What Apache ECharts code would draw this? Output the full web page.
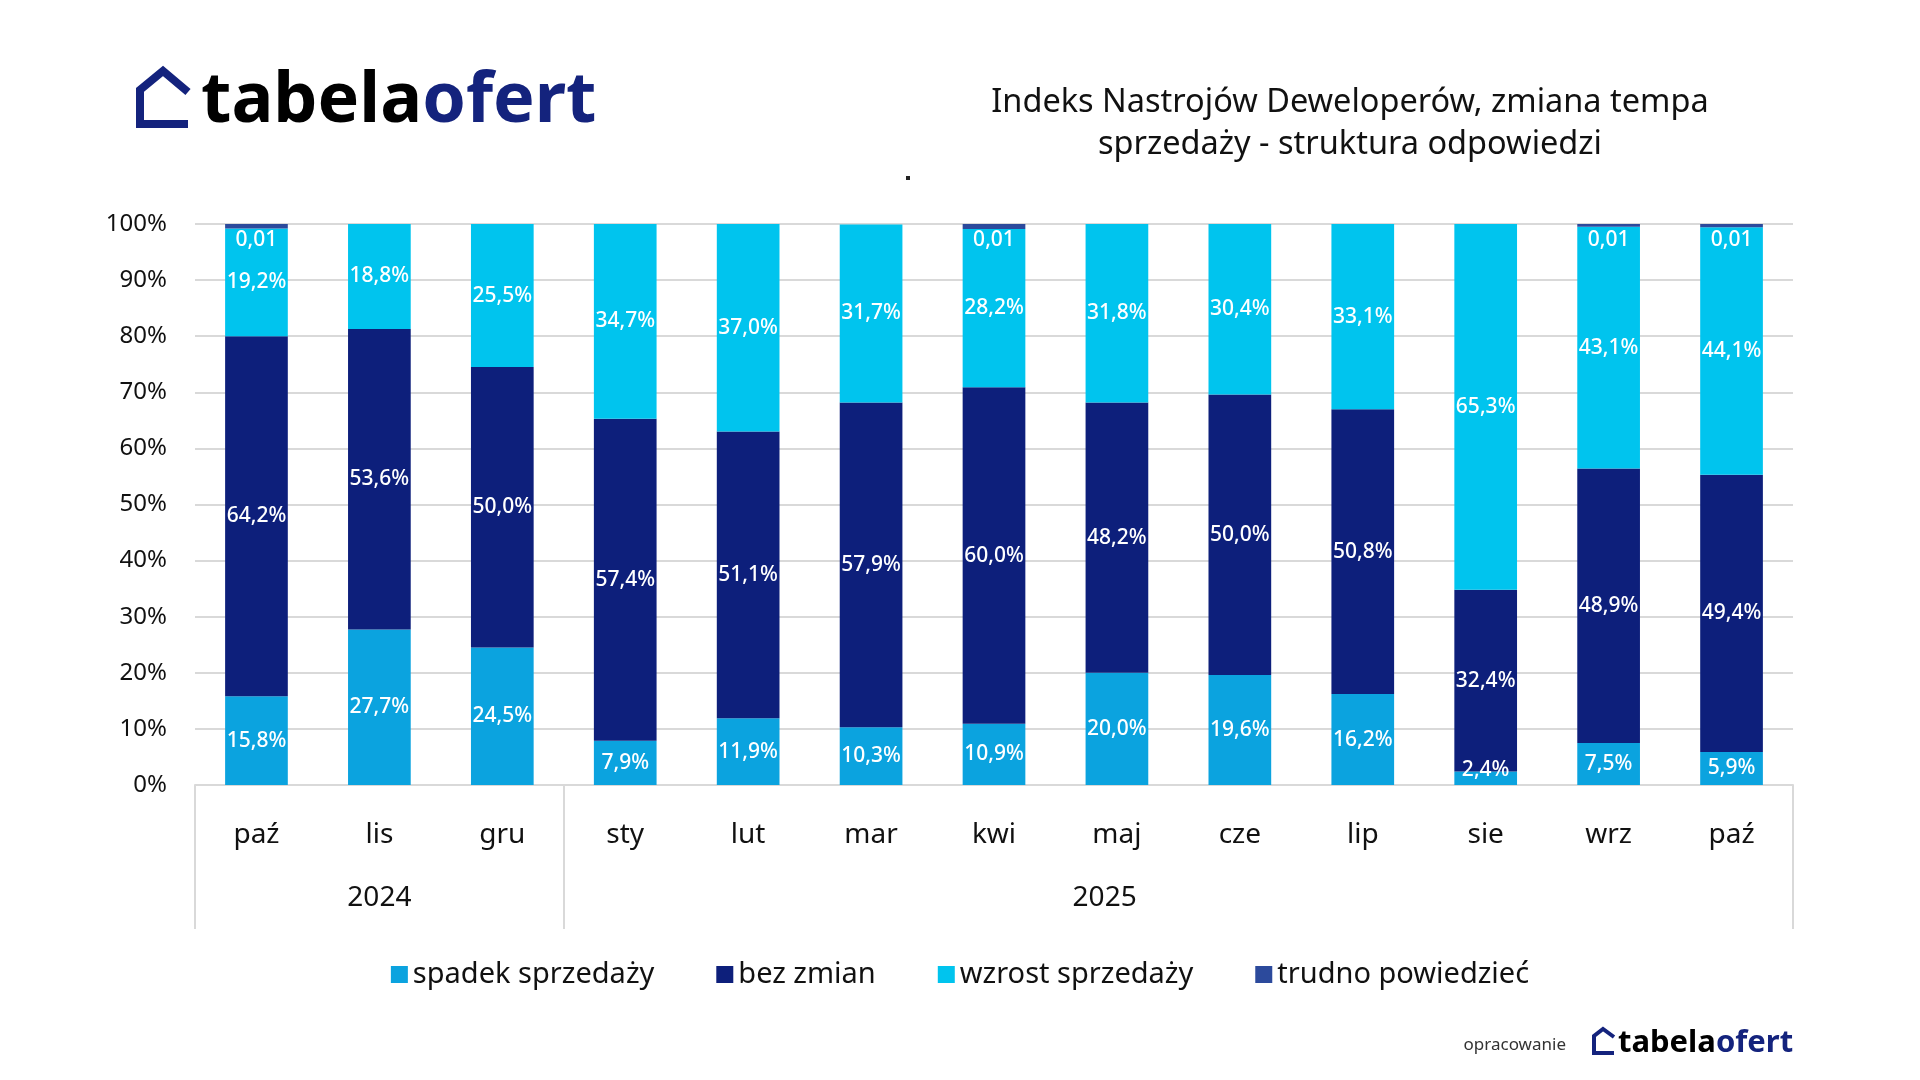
<!DOCTYPE html>
<html>
<head>
<meta charset="utf-8">
<script src="https://cdn.jsdelivr.net/npm/echarts@6/dist/echarts.min.js"></script>
<style>
html,body{margin:0;padding:0;background:#fff;}
#main{width:1920px;height:1080px;}
</style>
</head>
<body>
<div id="main"></div>
<script>
const categories = ['paź','lis','gru','sty','lut','mar','kwi','maj','cze','lip','sie','wrz','paź'];
const years = ['2024','2025'];
const yearStart = [0, 3];
const spadek = [15.8, 27.7, 24.5, 7.9, 11.9, 10.3, 10.9, 20.0, 19.6, 16.2, 2.4, 7.5, 5.9];
const bezZmian = [64.2, 53.6, 50.0, 57.4, 51.1, 57.9, 60.0, 48.2, 50.0, 50.8, 32.4, 48.9, 49.4];
const wzrost = [19.2, 18.8, 25.5, 34.7, 37.0, 31.7, 28.2, 31.8, 30.4, 33.1, 65.3, 43.1, 44.1];
const trudno = [1, null, null, null, null, null, 1, null, null, null, null, 1, 1];
const yTicks = [0,10,20,30,40,50,60,70,80,90,100];

const FONT = 'Noto Sans';
const pct = v => v.toFixed(1).replace('.', ',') + '%';

const chart = echarts.init(document.getElementById('main'), null, {renderer:'canvas'});

const labelBase = {show:true, color:'#fff', fontSize:21, fontWeight:500, fontFamily:FONT};

function mkData(arr){
  return arr.map(v => (v !== null && v < 5) ? {value:v, label:{position:'insideBottom', distance:4}} : v);
}

const yearLabelPos = [1.5, 7.4];

const option = {
  backgroundColor:'#ffffff',
  animation:false,
  textStyle:{fontFamily:FONT},
  title:{
    text:'Indeks Nastrojów Deweloperów, zmiana tempa\nsprzedaży - struktura odpowiedzi',
    left:1345, top:77, textAlign:'center',
    textStyle:{fontFamily:FONT, fontSize:32.5, fontWeight:'normal', color:'#111', lineHeight:42}
  },
  legend:{
    bottom:86, left:'center',
    itemWidth:17, itemHeight:17, itemGap:62, icon:'rect',
    textStyle:{fontFamily:FONT, fontSize:29, color:'#111'},
    data:['spadek sprzedaży','bez zmian','wzrost sprzedaży','trudno powiedzieć']
  },
  grid:{left:195, right:127, top:224, bottom:295, containLabel:false},
  xAxis:[{
    type:'category', data:categories, position:'bottom',
    axisLine:{show:true, lineStyle:{color:'#d9d9d9', width:2}},
    axisTick:{show:false},
    axisLabel:{fontFamily:FONT, fontSize:28, color:'#111', margin:36}
  },{
    type:'value', min:0, max:categories.length, position:'bottom', offset:0,
    axisLine:{show:false},
    splitLine:{show:false},
    axisTick:{show:true, inside:false, length:144, customValues:[...yearStart, categories.length],
      lineStyle:{color:'#d9d9d9', width:2}},
    axisLabel:{show:true, customValues:yearLabelPos, margin:99, fontFamily:FONT, fontSize:28, color:'#111',
      formatter: v => { const i = yearLabelPos.indexOf(v); return i >= 0 ? years[i] : ''; }}
  }],
  yAxis:{
    type:'value', min:0, max:100, interval:10,
    axisLine:{show:false}, axisTick:{show:false},
    splitLine:{lineStyle:{color:'#d9d9d9', width:2}},
    axisLabel:{formatter:'{value}%', fontFamily:FONT, fontSize:24, color:'#111', margin:28}
  },
  series:[
    {name:'spadek sprzedaży', type:'bar', stack:'s', barWidth:'51%', clip:true,
     itemStyle:{color:'#0BA3DF'}, label:Object.assign({}, labelBase, {position:'inside', formatter:p=>pct(p.value)}),
     data:mkData(spadek)},
    {name:'bez zmian', type:'bar', stack:'s', barWidth:'51%', clip:true,
     itemStyle:{color:'#0D1F7B'}, label:Object.assign({}, labelBase, {position:'inside', formatter:p=>pct(p.value)}),
     data:mkData(bezZmian)},
    {name:'wzrost sprzedaży', type:'bar', stack:'s', barWidth:'51%', clip:true,
     itemStyle:{color:'#00C4EE'}, label:Object.assign({}, labelBase, {position:'inside', formatter:p=>pct(p.value)}),
     data:mkData(wzrost)},
    {name:'trudno powiedzieć', type:'bar', stack:'s', barWidth:'51%', clip:true,
     itemStyle:{color:'#2C4A9C'},
     label:Object.assign({}, labelBase, {position:'insideTop', distance:6,
       formatter:p=> p.value == null ? '' : (p.value/100).toFixed(2).replace('.', ',')}),
     data:trudno}
  ],
  graphic:[
    {type:'polyline', shape:{points:[[188,92],[163,71],[140,90],[140,124],[188,124]]},
     style:{stroke:'#14237D', lineWidth:8, fill:null, lineJoin:'miter'}},
    {type:'text', x:201, y:102,
     style:{text:'{a|tabela}{b|ofert}', textVerticalAlign:'middle',
       rich:{a:{fontFamily:FONT, fontSize:70, fontWeight:'bold', fill:'#000'},
             b:{fontFamily:FONT, fontSize:70, fontWeight:'bold', fill:'#14237D'}}}},
    {type:'rect', shape:{x:906, y:176, width:4, height:4}, style:{fill:'#222'}},
    {type:'text', x:1566, y:1045,
     style:{text:'opracowanie', textAlign:'right', textVerticalAlign:'middle', fontFamily:FONT, fontSize:17, fill:'#333'}},
    {type:'polyline', shape:{points:[[1614,1037],[1603,1029],[1594,1036],[1594,1053],[1614,1053]]},
     style:{stroke:'#14237D', lineWidth:4, fill:null}},
    {type:'text', x:1618, y:1043,
     style:{text:'{a|tabela}{b|ofert}', textVerticalAlign:'middle',
       rich:{a:{fontFamily:FONT, fontSize:31, fontWeight:'bold', fill:'#000'},
             b:{fontFamily:FONT, fontSize:31, fontWeight:'bold', fill:'#14237D'}}}}
  ]
};
chart.setOption(option);
</script>
</body>
</html>
